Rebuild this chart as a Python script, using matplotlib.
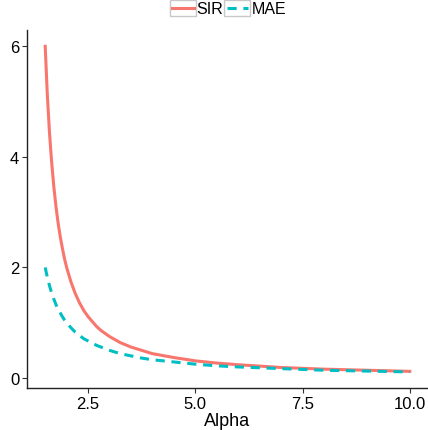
import matplotlib
matplotlib.use("Agg")
import matplotlib.pyplot as plt
from matplotlib.patches import Rectangle

# valores
alpha = [1.5, 1.55, 1.6, 1.65, 1.7, 1.75, 1.8, 1.85, 1.9, 1.95, 2.0, 2.1,
         2.2, 2.3, 2.4, 2.5, 2.6, 2.7, 2.8, 3.0, 3.25, 3.5, 3.75,
         4.0, 4.5, 5.0, 5.5, 6.0, 7.0, 8.0, 9.0, 10.0]
sir = [6.0, 5.12, 4.44, 3.91, 3.47, 3.11, 2.81, 2.56, 2.35, 2.16, 2.0, 1.74,
       1.53, 1.36, 1.22, 1.11, 1.02, 0.93, 0.86, 0.75, 0.64, 0.56, 0.50,
       0.44, 0.37, 0.31, 0.27, 0.24, 0.19, 0.16, 0.14, 0.12]
mae = [2.0, 1.82, 1.67, 1.54, 1.43, 1.33, 1.25, 1.18, 1.11, 1.05, 1.0, 0.91,
       0.83, 0.77, 0.71, 0.67, 0.63, 0.59, 0.56, 0.5, 0.44, 0.4, 0.36,
       0.33, 0.29, 0.25, 0.22, 0.2, 0.17, 0.14, 0.125, 0.11]
xticks = [2.5, 5.0, 7.5, 10.0]
xtick_labels = ["2.5", "5.0", "7.5", "10.0"]
yticks = [0, 2, 4, 6]

plt.rcParams['font.family'] = ['Liberation Sans', 'DejaVu Sans']

fig = plt.figure(figsize=(4.28, 4.31), dpi=100)
ax = fig.add_axes([0.063, 0.097, 0.937, 0.831])

ax.plot(alpha, sir, color="#F8766D", lw=2.2, label="SIR")
ax.plot(alpha, mae, color="#00BFC4", lw=2.2, dashes=(3.0, 2.2), label="MAE")
ax.margins(0.05)

ax.set_xticks(xticks)
ax.set_xticklabels(xtick_labels)
ax.set_yticks(yticks)
ax.tick_params(length=3.5, width=0.8, color="#333333", labelsize=12,
               labelcolor="black", pad=2)
ax.set_xlabel("Alpha", fontsize=13, labelpad=1)

for s in ["top", "right"]:
    ax.spines[s].set_visible(False)
for s in ["left", "bottom"]:
    ax.spines[s].set_color("#222222")
    ax.spines[s].set_linewidth(1.0)

leg = fig.legend(loc="center", bbox_to_anchor=(0.535, 0.977), ncol=2,
                 frameon=False, fontsize=11.5, handlelength=1.35,
                 handletextpad=0.2, columnspacing=0.2, borderpad=0)
fig.canvas.draw()
for h in leg.legend_handles:
    bb = h.get_window_extent(fig.canvas.get_renderer())
    cx = (bb.x0 + bb.x1) / 2
    cy = (bb.y0 + bb.y1) / 2
    w, hgt = 26 / 428, 16 / 431
    cx, cy = fig.transFigure.inverted().transform((cx, cy))
    fig.add_artist(Rectangle((cx - w / 2, cy - hgt / 2), w, hgt,
                             transform=fig.transFigure, fill=False,
                             edgecolor="#c8c8c8", lw=1.0, zorder=0))

fig.savefig("out.png", dpi=100)
